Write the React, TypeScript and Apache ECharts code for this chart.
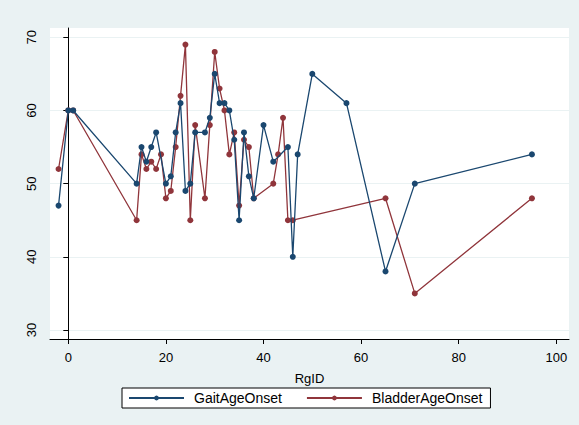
import React, { useEffect, useRef } from "react";
import * as echarts from "echarts";

const gaitX = [-2, 0, 1, 14, 15, 16, 17, 18, 20, 21, 22, 23, 24, 25, 26, 28, 29, 30, 31, 32, 33, 34, 35, 36, 37, 38, 40, 42, 45, 46, 47, 50, 57, 65, 71, 95];
const gaitY = [47, 60, 60, 50, 55, 53, 55, 57, 50, 51, 57, 61, 49, 50, 57, 57, 59, 65, 61, 61, 60, 56, 45, 57, 51, 48, 58, 53, 55, 40, 54, 65, 61, 38, 50, 54];

const bladderX = [-2, 0, 1, 14, 15, 16, 17, 18, 19, 20, 21, 22, 23, 24, 25, 26, 28, 29, 30, 31, 32, 33, 34, 35, 36, 37, 38, 42, 43, 44, 45, 46, 65, 71, 95];
const bladderY = [52, 60, 60, 45, 54, 52, 53, 52, 54, 48, 49, 55, 62, 69, 45, 58, 48, 58, 68, 63, 60, 54, 57, 47, 56, 55, 48, 50, 54, 59, 45, 45, 48, 35, 48];

const xTicks = [0, 20, 40, 60, 80, 100];
const yTicks = [30, 40, 50, 60, 70];
const seriesNames = ["GaitAgeOnset", "BladderAgeOnset"];
const xTitle = "RgID";

const NAVY = "#1a476f";
const MAROON = "#90353b";
const FONT = "'Liberation Sans', Arial, sans-serif";

export default function App() {
  const ref = useRef<HTMLDivElement>(null);
  useEffect(() => {
    if (!ref.current) return;
    const chart = echarts.init(ref.current, undefined, { renderer: "svg" });
    const pairs = (xs: number[], ys: number[]) => xs.map((x, i) => [x, ys[i]]);
    chart.setOption({
      animation: false,
      backgroundColor: "#eaf2f3",
      textStyle: { fontFamily: FONT },
      grid: {
        show: true,
        left: 50,
        top: 28,
        right: 10,
        bottom: 86,
        backgroundColor: "#ffffff",
        borderWidth: 0,
      },
      xAxis: {
        type: "value",
        min: -3.75,
        max: 102.6,
        name: xTitle,
        nameLocation: "middle",
        nameGap: 33,
        nameTextStyle: { color: "#000", fontSize: 13, fontFamily: FONT },
        axisLine: { show: true, lineStyle: { color: "#000", width: 1 } },
        axisTick: { show: true, length: 5, lineStyle: { color: "#000" }, customValues: xTicks },
        axisLabel: { color: "#000", fontSize: 13, fontFamily: FONT, margin: 12, customValues: xTicks },
        splitLine: { show: false },
      },
      yAxis: {
        type: "value",
        min: 28.77,
        max: 71.27,
        axisLine: { show: true, lineStyle: { color: "#000", width: 1 } },
        axisTick: { show: true, length: 5, lineStyle: { color: "#000" }, customValues: yTicks },
        axisLabel: { color: "#000", fontSize: 13, fontFamily: FONT, margin: 12, rotate: 90, customValues: yTicks },
        splitLine: { show: true, lineStyle: { color: "#eaf2f3", width: 1 } },
      },
      legend: {
        data: seriesNames,
        left: 122,
        top: 388,
        orient: "horizontal",
        backgroundColor: "#ffffff",
        borderColor: "#000",
        borderWidth: 1,
        borderRadius: 0,
        padding: [3, 8, 3, 6],
        itemWidth: 55,
        itemHeight: 6,
        itemGap: 24,
        textStyle: { color: "#000", fontSize: 14, fontFamily: FONT, padding: [0, 0, 0, 5] },
      },
      series: [
        {
          name: seriesNames[0],
          type: "line",
          data: pairs(gaitX, gaitY),
          symbol: "circle",
          symbolSize: 6,
          lineStyle: { color: NAVY, width: 1.3 },
          itemStyle: { color: NAVY },
          z: 3,
        },
        {
          name: seriesNames[1],
          type: "line",
          data: pairs(bladderX, bladderY),
          symbol: "circle",
          symbolSize: 6,
          lineStyle: { color: MAROON, width: 1.3 },
          itemStyle: { color: MAROON },
          z: 2,
        },
      ],
    });
    return () => chart.dispose();
  }, []);
  return (
    <div
      ref={ref}
      style={{ position: "fixed", left: 0, top: 0, width: 579, height: 425 }}
    />
  );
}
